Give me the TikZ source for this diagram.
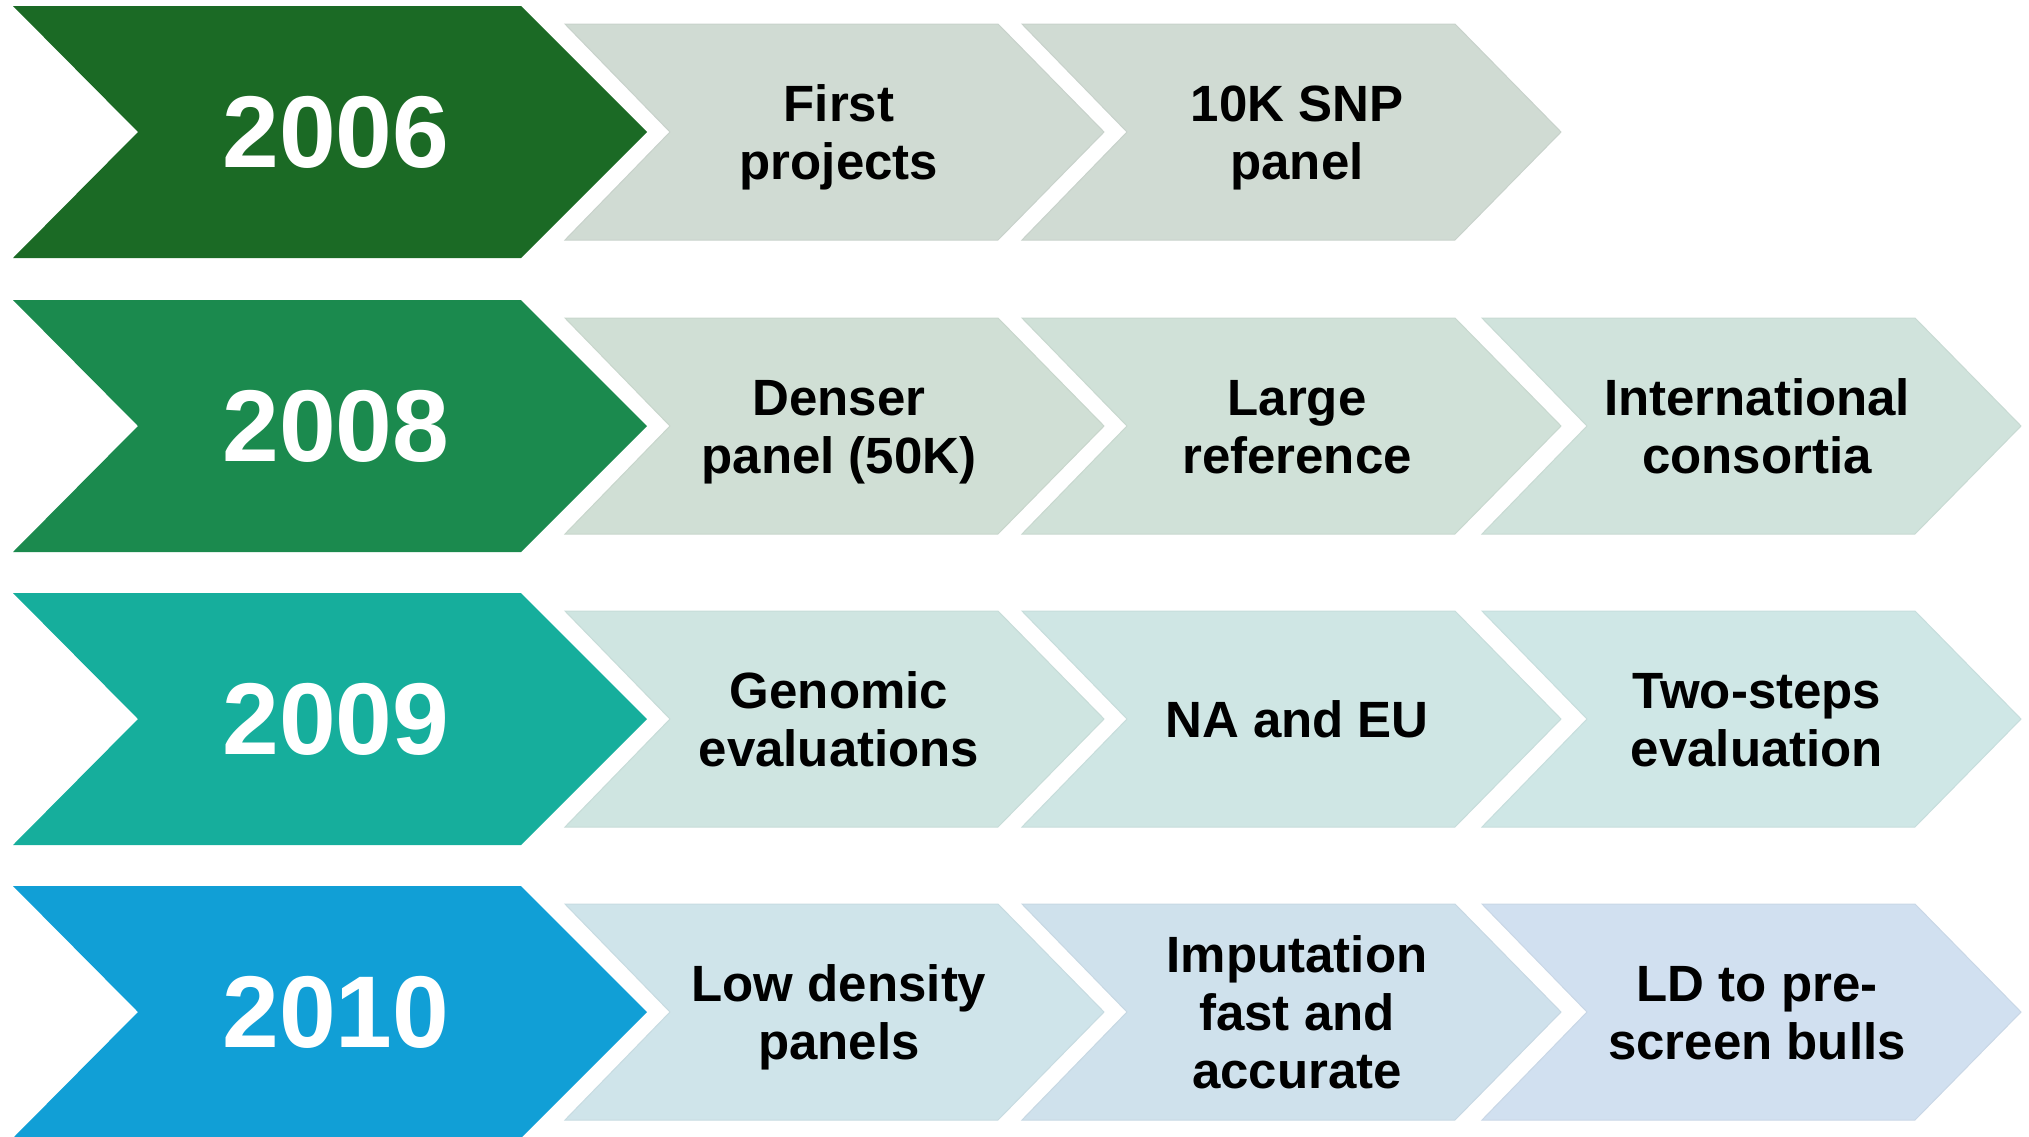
\documentclass[tikz,border=0pt]{standalone}
\usepackage{fontspec}
\setmainfont{Liberation Sans}
\definecolor{y06}{HTML}{1B6A25}
\definecolor{y08}{HTML}{1B8A4E}
\definecolor{y09}{HTML}{16AE9C}
\definecolor{y10}{HTML}{119FD6}
\definecolor{l11}{HTML}{D0DBD3}
\definecolor{l12}{HTML}{D0DBD3}
\definecolor{l21}{HTML}{D0DFD5}
\definecolor{l22}{HTML}{D0E1D8}
\definecolor{l23}{HTML}{D0E3DC}
\definecolor{l31}{HTML}{CFE5E1}
\definecolor{l32}{HTML}{CFE6E4}
\definecolor{l33}{HTML}{CFE7E6}
\definecolor{l41}{HTML}{CFE4EA}
\definecolor{l42}{HTML}{CFE1EC}
\definecolor{l43}{HTML}{D1E0F0}
\newcommand\yearchev[2]{%
  \fill[#2] (13,#1-126) -- (521,#1-126) -- (647,#1) -- (521,#1+126) -- (13,#1+126) -- (138,#1) -- cycle;}
\newcommand\lchev[3]{%
  \filldraw[fill=#3,draw=#3!96!black,line width=0.5pt,line join=miter]
    (#1,#2-108) -- (#1+433,#2-108) -- (#1+539,#2) -- (#1+433,#2+108) -- (#1,#2+108) -- (#1+105,#2) -- cycle;}
\newcommand\tstr{\rule{0pt}{24.76pt}}
\newcommand\bstr{\rule[-6.5pt]{0pt}{6.5pt}}
\begin{document}
\begin{tikzpicture}[x=0.5pt,y=-0.5pt,
  yeartxt/.style={text=white,font=\bfseries\fontsize{51}{60}\selectfont,inner sep=0pt},
  lbl/.style={text=black,align=center,font=\bfseries\fontsize{25.5}{29}\selectfont,inner sep=0pt}]
\useasboundingbox (0,0) rectangle (2029,1136);
\clip (0,0) rectangle (2029,1136);
% row 1
\yearchev{132}{y06}
\lchev{565}{132}{l11}
\lchev{1022}{132}{l12}
\node[yeartxt] (y1) at (336,132) {2006};
\node[lbl] (t11) at (839,132) {\tstr First\\projects\bstr};
\node[lbl] (t12) at (1297,132) {\tstr 10K SNP\\panel\bstr};
% row 2
\yearchev{426}{y08}
\lchev{565}{426}{l21}
\lchev{1022}{426}{l22}
\lchev{1482}{426}{l23}
\node[yeartxt] (y2) at (336,426) {2008};
\node[lbl] (t21) at (839,426) {\tstr Denser\\panel (50K)\bstr};
\node[lbl] (t22) at (1297,426) {\tstr Large\\reference\bstr};
\node[lbl] (t23) at (1757,426) {\tstr International\\consortia\bstr};
% row 3
\yearchev{719}{y09}
\lchev{565}{719}{l31}
\lchev{1022}{719}{l32}
\lchev{1482}{719}{l33}
\node[yeartxt] (y3) at (336,719) {2009};
\node[lbl] (t31) at (839,719) {\tstr Genomic\\evaluations\bstr};
\node[lbl] (t32) at (1297,719) {\tstr NA and EU\bstr};
\node[lbl] (t33) at (1757,719) {\tstr Two-steps\\evaluation\bstr};
% row 4
\yearchev{1012}{y10}
\lchev{565}{1012}{l41}
\lchev{1022}{1012}{l42}
\lchev{1482}{1012}{l43}
\node[yeartxt] (y4) at (336,1012) {2010};
\node[lbl] (t41) at (839,1012) {\tstr Low density\\panels\bstr};
\node[lbl] (t42) at (1297,1012) {\tstr Imputation\\fast and\\accurate\bstr};
\node[lbl] (t43) at (1757,1012) {\tstr LD to pre-\\screen bulls\bstr};
\end{tikzpicture}
\end{document}
